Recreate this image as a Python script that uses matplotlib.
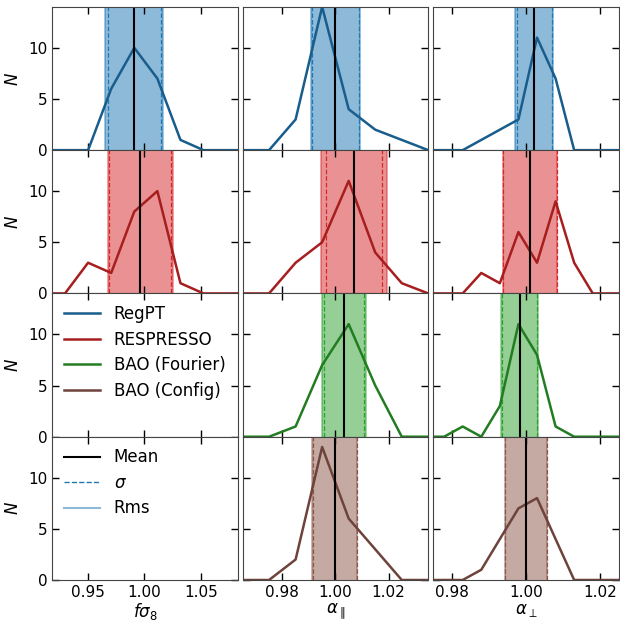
import numpy as np
import matplotlib
matplotlib.use("Agg")
import matplotlib.pyplot as plt
import matplotlib.colors as mcolors

plt.rcParams['font.size'] = 11
plt.rcParams['xtick.direction'] = 'in'
plt.rcParams['ytick.direction'] = 'in'

models = ["RegPT", "RESPRESSO", "BAO (Fourier)", "BAO (Config)"]
colors = ["tab:blue", "tab:red", "tab:green", "tab:brown"]
params = [r"$f\sigma_8$", r"$\alpha_\parallel$", r"$\alpha_\perp$"]

# bin centres per parameter column
bins_fs8 = [0.9295, 0.950, 0.9705, 0.991, 1.0115, 1.032, 1.0525]
bins_apar = [0.975, 0.985, 0.995, 1.005, 1.015, 1.025, 1.035]
bins_aperp = [0.978, 0.983, 0.988, 0.993, 0.998, 1.003, 1.008, 1.013, 1.018]
bins = [bins_fs8, bins_apar, bins_aperp]

# counts[model][param], None = parameter not measured
counts = [
    [[0, 0, 6, 10, 7, 1, 0], [0, 3, 14, 4, 2, 1, 0], [0, 0, 1, 2, 3, 11, 7, 0, 0]],
    [[0, 3, 2, 8, 10, 1, 0], [0, 3, 5, 11, 4, 1, 0], [0, 0, 2, 1, 6, 3, 9, 3, 0]],
    [None, [0, 1, 7, 11, 5, 0, 0], [0, 1, 0, 3, 11, 8, 1, 0, 0]],
    [None, [0, 2, 13, 6, 3, 0, 0], [0, 0, 1, 4, 7, 8, 4, 0, 0]],
]
means = [
    [0.991, 1.000, 1.0022],
    [0.9962, 1.007, 1.0011],
    [None, 1.0032, 0.9984],
    [None, 0.9997, 1.000],
]
sigmas = [
    [0.0237, 0.0088, 0.0047],
    [0.0277, 0.0104, 0.0072],
    [None, 0.0076, 0.0047],
    [None, 0.0083, 0.0057],
]
rms = [
    [0.0258, 0.0092, 0.0052],
    [0.0288, 0.0123, 0.0073],
    [None, 0.0082, 0.0050],
    [None, 0.0086, 0.0057],
]
xlims = [(0.918, 1.083), (0.965, 1.035), (0.975, 1.025)]
xticks = [[0.95, 1.00, 1.05], [0.98, 1.00, 1.02], [0.98, 1.00, 1.02]]


def darker(c, f=0.78):
    r, g, b = mcolors.to_rgb(c)
    return (r * f, g * f, b * f)


fig, axes = plt.subplots(4, 3, figsize=(6.2, 6.25), dpi=100, sharey=True)
fig.subplots_adjust(left=0.084, right=0.998, top=0.989, bottom=0.072,
                    hspace=0.0, wspace=0.025)

for i in range(4):
    for j in range(3):
        ax = axes[i, j]
        ax.set_xlim(*xlims[j])
        ax.set_ylim(0, 14)
        ax.set_xticks(xticks[j])
        ax.set_yticks([0, 5, 10])
        ax.tick_params(top=True, right=True, length=5, width=1)
        for s in ax.spines.values():
            s.set_color("#444444")
        if j == 0:
            ax.set_ylabel(r"$N$", fontsize=12)
        if i == 3:
            ax.set_xlabel(params[j], fontsize=12, labelpad=1)
            ax.set_xticklabels(["%.2f" % t for t in xticks[j]])
        else:
            ax.set_xticklabels([])
        if counts[i][j] is None:
            continue
        c = colors[i]
        m, s, r = means[i][j], sigmas[i][j], rms[i][j]
        ax.axvspan(m - r, m + r, color=c, alpha=0.5, lw=0)
        ax.axvline(m - r, color=c, alpha=0.5, lw=1.2)
        ax.axvline(m + r, color=c, alpha=0.5, lw=1.2)
        ax.axvline(m - s, color=c, ls="--", lw=0.9)
        ax.axvline(m + s, color=c, ls="--", lw=0.9)
        x = np.concatenate([[xlims[j][0]], bins[j], [xlims[j][1]]])
        y = np.concatenate([[0], counts[i][j], [0]])
        ax.plot(x, y, color=darker(c), lw=1.8)
        ax.axvline(m, color="black", lw=1.5)

# legends in the empty panels
h1 = [plt.Line2D([], [], color=darker(c), lw=1.8) for c in colors]
axes[2, 0].legend(h1, models, loc="upper left", frameon=False, fontsize=12,
                  handlelength=2.2, borderaxespad=0.3, labelspacing=0.45)
h2 = [plt.Line2D([], [], color="black", lw=1.5),
      plt.Line2D([], [], color="tab:blue", ls="--", lw=1.0),
      plt.Line2D([], [], color="tab:blue", alpha=0.5, lw=1.5)]
axes[3, 0].legend(h2, ["Mean", r"$\sigma$", "Rms"], loc="upper left",
                  frameon=False, fontsize=12, handlelength=2.2,
                  borderaxespad=0.3, labelspacing=0.45)

fig.savefig("out.png", dpi=100)
